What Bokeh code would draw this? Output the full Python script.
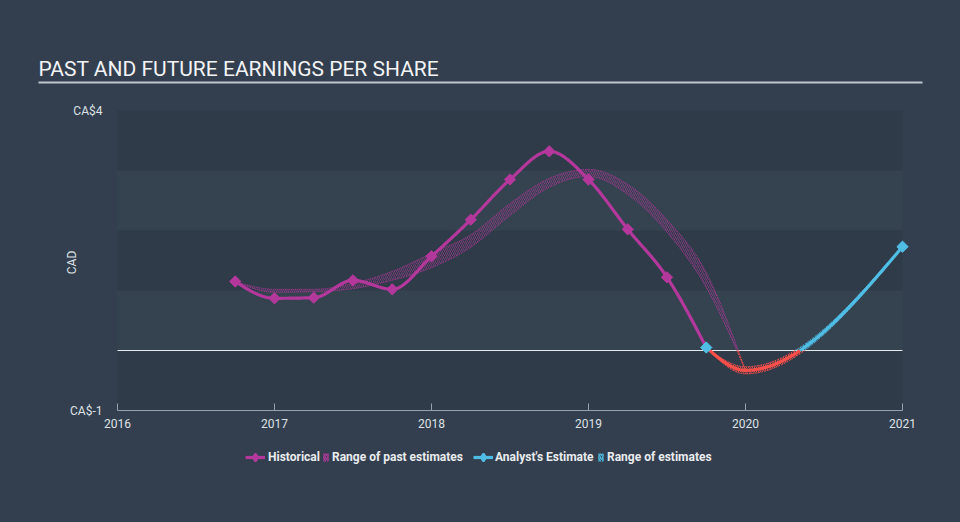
import numpy as np
from bokeh.plotting import figure
from bokeh.models import (Range1d, FixedTicker, Label, Arrow, BoxAnnotation,
                          Legend, LegendItem)
from bokeh.embed import file_html
from bokeh.resources import INLINE

# ---------------- data ----------------
hist_x = [2016.75, 2017.0, 2017.25, 2017.5, 2017.75, 2018.0, 2018.25,
          2018.5, 2018.75, 2019.0, 2019.25, 2019.5, 2019.75]
hist_y = [1.15, 0.87, 0.88, 1.17, 1.02, 1.57, 2.18,
          2.85, 3.32, 2.85, 2.02, 1.22, 0.05]

past_x = [2016.75, 2017.0, 2017.25, 2017.5, 2017.75, 2018.0, 2018.25,
          2018.5, 2018.75, 2019.0, 2019.25, 2019.5, 2019.75, 2020.0]
past_low = [1.15, 0.97, 0.98, 1.03, 1.17, 1.38, 1.72,
            2.25, 2.72, 2.90, 2.60, 1.97, 1.05, -0.33]
past_high = [1.15, 1.02, 1.02, 1.12, 1.32, 1.62, 1.93,
             2.45, 2.87, 3.02, 2.77, 2.18, 1.30, -0.33]

fc_x = [2019.75, 2020.0, 2021.0]
fc_y = [0.05, -0.33, 1.73]
fr_x = [2019.75, 2020.0, 2021.0]
fr_low = [0.05, -0.39, 1.71]
fr_high = [0.05, -0.27, 1.75]

x_ticks = [2016, 2017, 2018, 2019, 2020, 2021]
y_ticks = [-1, 4]
y_tick_labels = ["CA$-1", "CA$4"]
band_bottoms = [-1, 1, 3]

title_text = "PAST AND FUTURE EARNINGS PER SHARE"
y_axis_text = "CAD"
legend_labels = ["Historical", "Range of past estimates",
                 "Analyst's Estimate", "Range of estimates"]

# ---------------- styles / layout ----------------
W, H = 960, 522
PX_L, PX_R, PX_T, PX_B = 117, 902, 110, 410      # plot area in page pixels
BG = "#333f4e"
BAND_LIGHT = "#35424f"
BAND_DARK = "#2f3b49"
MAGENTA = "#b4389c"
BLUE = "#4fbde4"
RED = "#ff4f4b"
TEXT = "#dde1e6"
FONT = "Roboto"

X0, X1 = x_ticks[0], x_ticks[-1]
Y0, Y1 = y_ticks[0], y_ticks[-1]
KX = (PX_R - PX_L) / (X1 - X0)
KY = (PX_B - PX_T) / (Y1 - Y0)


def dx(px):
    return X0 + (px - PX_L) / KX


def dy(py):
    return Y1 - (py - PX_T) / KY


def monotone(xs, ys, n=40):
    """d3 curveMonotoneX style rendering of a series."""
    xs = np.asarray(xs, float)
    ys = np.asarray(ys, float)
    N = len(xs)
    h = np.diff(xs)
    s = np.diff(ys) / h
    t = np.zeros(N)
    if N > 2:
        for i in range(1, N - 1):
            h0, h1, s0, s1 = h[i - 1], h[i], s[i - 1], s[i]
            p_ = (s0 * h1 + s1 * h0) / (h0 + h1)
            t[i] = (np.sign(s0) + np.sign(s1)) * min(abs(s0), abs(s1), 0.5 * abs(p_))
        t[0] = (3 * s[0] - t[1]) / 2
        t[-1] = (3 * s[-1] - t[-2]) / 2
    else:
        t[:] = s[0]
    X, Y = [], []
    for i in range(N - 1):
        u = np.linspace(0, 1, n, endpoint=(i == N - 2))
        hh = h[i]
        h00 = 2 * u**3 - 3 * u**2 + 1
        h10 = u**3 - 2 * u**2 + u
        h01 = -2 * u**3 + 3 * u**2
        h11 = u**3 - u**2
        Y.append(h00 * ys[i] + h10 * hh * t[i] + h01 * ys[i + 1] + h11 * hh * t[i + 1])
        X.append(xs[i] + u * hh)
    return np.concatenate(X), np.concatenate(Y)


def split_zero(x, y):
    """insert zero crossings, return (x, y_neg, y_pos) with NaN gaps"""
    xo, yo = [x[0]], [y[0]]
    for i in range(1, len(x)):
        if (y[i - 1] < 0) != (y[i] < 0) and y[i] != y[i - 1]:
            f = -y[i - 1] / (y[i] - y[i - 1])
            xo.append(x[i - 1] + f * (x[i] - x[i - 1]))
            yo.append(0.0)
        xo.append(x[i])
        yo.append(y[i])
    xo = np.array(xo)
    yo = np.array(yo)
    neg = np.where(yo <= 0, yo, np.nan)
    pos = np.where(yo >= 0, yo, np.nan)
    return xo, neg, pos


p = figure(width=W, height=H, output_backend="svg", toolbar_location=None,
           x_range=Range1d(dx(0), dx(W)), y_range=Range1d(dy(H), dy(0)),
           min_border=0)
p.title.visible = False
p.background_fill_color = BG
p.border_fill_color = BG
p.outline_line_color = None
p.grid.visible = False

# plot-area bands
p.add_layout(BoxAnnotation(left=X0, right=X1, bottom=Y0, top=Y1, fill_color=BAND_LIGHT,
                           fill_alpha=1, line_color=None, level="underlay"))
for b in band_bottoms:
    p.add_layout(BoxAnnotation(left=X0, right=X1, bottom=b, top=b + 1,
                               fill_color=BAND_DARK, fill_alpha=1, line_color=None,
                               level="underlay"))

# axes placed at the plot-area edges
p.xaxis.fixed_location = Y0
p.xaxis.bounds = (X0, X1)
p.xaxis.ticker = FixedTicker(ticks=x_ticks)
p.xaxis.minor_tick_line_color = None
p.xaxis.major_tick_in = 7
p.xaxis.major_tick_out = 0
p.xaxis.axis_line_color = "#95a1ae"
p.xaxis.major_tick_line_color = "#95a1ae"
p.xaxis.major_label_text_color = TEXT
p.xaxis.major_label_text_font = FONT
p.xaxis.major_label_text_font_size = "12px"
p.xaxis.major_label_standoff = 8

p.yaxis.fixed_location = X0
p.yaxis.bounds = (Y0, Y1)
p.yaxis.ticker = FixedTicker(ticks=y_ticks)
p.yaxis.major_label_overrides = {t: l for t, l in zip(y_ticks, y_tick_labels)}
p.yaxis.axis_line_color = None
p.yaxis.major_tick_line_color = None
p.yaxis.minor_tick_line_color = None
p.yaxis.major_tick_out = 0
p.yaxis.major_tick_in = 0
p.yaxis.major_label_standoff = 15
p.yaxis.major_label_text_color = TEXT
p.yaxis.major_label_text_font = FONT
p.yaxis.major_label_text_font_size = "12px"

# zero line
p.line([X0, X1], [0, 0], line_color="#e6e9ec", line_width=1.2)

# ---------- range of past estimates ----------
bx, blo = monotone(past_x, past_low)
_, bhi = monotone(past_x, past_high)
p.varea(x=bx, y1=np.maximum(blo, 0), y2=np.maximum(bhi, 0),
        fill_alpha=0, hatch_pattern="/", hatch_color=MAGENTA,
        hatch_alpha=0.55, hatch_scale=4, hatch_weight=1)
p.varea(x=bx, y1=np.minimum(blo, 0), y2=np.minimum(bhi, 0),
        fill_alpha=0, hatch_pattern="/", hatch_color=RED,
        hatch_alpha=0.8, hatch_scale=4, hatch_weight=1)
for yy in (blo, bhi):
    xs_, neg, pos = split_zero(bx, yy)
    p.line(xs_, pos, line_color=MAGENTA, line_width=1, line_alpha=0.7, line_dash="2 1")
    p.line(xs_, neg, line_color=RED, line_width=1, line_alpha=0.8, line_dash="2 1")

# ---------- range of estimates ----------
fx, flo = monotone(fr_x, fr_low)
_, fhi = monotone(fr_x, fr_high)
p.varea(x=fx, y1=np.maximum(flo, 0), y2=np.maximum(fhi, 0),
        fill_alpha=0, hatch_pattern="/", hatch_color=BLUE,
        hatch_alpha=0.8, hatch_scale=4, hatch_weight=1)
p.varea(x=fx, y1=np.minimum(flo, 0), y2=np.minimum(fhi, 0),
        fill_alpha=0, hatch_pattern="/", hatch_color=RED,
        hatch_alpha=0.8, hatch_scale=4, hatch_weight=1)
for yy in (flo, fhi):
    xs_, neg, pos = split_zero(fx, yy)
    p.line(xs_, pos, line_color=BLUE, line_width=1, line_alpha=0.7, line_dash="2 1")
    p.line(xs_, neg, line_color=RED, line_width=1, line_alpha=0.8, line_dash="2 1")

# ---------- historical ----------
hx, hy = monotone(hist_x, hist_y)
hist_line = p.line(hx, hy, line_color=MAGENTA, line_width=3.2)
p.scatter(hist_x[:-1], hist_y[:-1], marker="square", angle=np.pi / 4,
          size=8, fill_color=MAGENTA, line_color=MAGENTA)

# ---------- analyst estimate ----------
ex, ey = monotone(fc_x, fc_y)
xs_, neg, pos = split_zero(ex, ey)
p.line(xs_, neg, line_color=RED, line_width=3.2)
fc_line = p.line(xs_, pos, line_color=BLUE, line_width=3.2)
p.scatter([fc_x[0], fc_x[-1]], [fc_y[0], fc_y[-1]], marker="square",
          angle=np.pi / 4, size=8, fill_color=BLUE, line_color=BLUE)

# hidden twins of the series, used only to draw the legend keys
leg_hist_pt = p.scatter(hist_x, hist_y, marker="diamond", fill_color=MAGENTA,
                        line_color=MAGENTA, line_width=2, visible=False)
leg_fc_pt = p.scatter(fc_x, fc_y, marker="diamond", fill_color=BLUE,
                      line_color=BLUE, line_width=2, visible=False)
leg_past_band = p.varea(x=past_x, y1=past_low, y2=past_high, fill_alpha=0,
                        hatch_pattern="/", hatch_color=MAGENTA, hatch_alpha=1,
                        hatch_scale=4, hatch_weight=1.5, visible=False)
leg_fut_band = p.varea(x=fr_x, y1=fr_low, y2=fr_high, fill_alpha=0,
                       hatch_pattern="/", hatch_color=BLUE, hatch_alpha=1,
                       hatch_scale=4, hatch_weight=1.5, visible=False)

# ---------- title, underline, axis name ----------
p.add_layout(Label(x=dx(38), y=dy(68.5), text=title_text, text_font=FONT,
                   text_font_size="21px", text_color="#f2f3f5",
                   text_baseline="alphabetic", text_align="left"))
p.add_layout(Arrow(end=None, x_start=dx(38), y_start=dy(82), x_end=dx(922),
                   y_end=dy(82), line_color="#bfc5cc", line_width=2))
p.add_layout(Label(x=dx(71), y=dy(262), text=y_axis_text, angle=np.pi / 2,
                   text_font=FONT, text_font_size="12px", text_color=TEXT,
                   text_align="center", text_baseline="middle"))


# ---------- legends ----------
def add_legend(label, renderers, left_px, gw, gh, standoff):
    h = max(gh, 14)
    lg = Legend(items=[LegendItem(label=label, renderers=renderers)],
                location=(left_px, H - (457 + h / 2)), orientation="horizontal",
                padding=0, margin=0, spacing=0, border_line_color=None,
                background_fill_alpha=0, glyph_width=gw, glyph_height=gh,
                label_standoff=standoff, label_height=14,
                inactive_fill_alpha=0, click_policy="none",
                label_text_font=FONT, label_text_font_size="12px",
                label_text_font_style="bold", label_text_color="#e9ecef")
    p.add_layout(lg, "center")


add_legend(legend_labels[0], [hist_line, leg_hist_pt], 245, 20, 24, 3)
add_legend(legend_labels[1], [leg_past_band], 322, 7, 10, 3)
add_legend(legend_labels[2], [fc_line, leg_fc_pt], 473, 20, 24, 2)
add_legend(legend_labels[3], [leg_fut_band], 597, 7, 10, 3)

html = file_html(p, INLINE)
html = html.replace("<head>", "<head><style>html,body{background:%s;}</style>" % BG, 1)
open("out.html", "w").write(html)
